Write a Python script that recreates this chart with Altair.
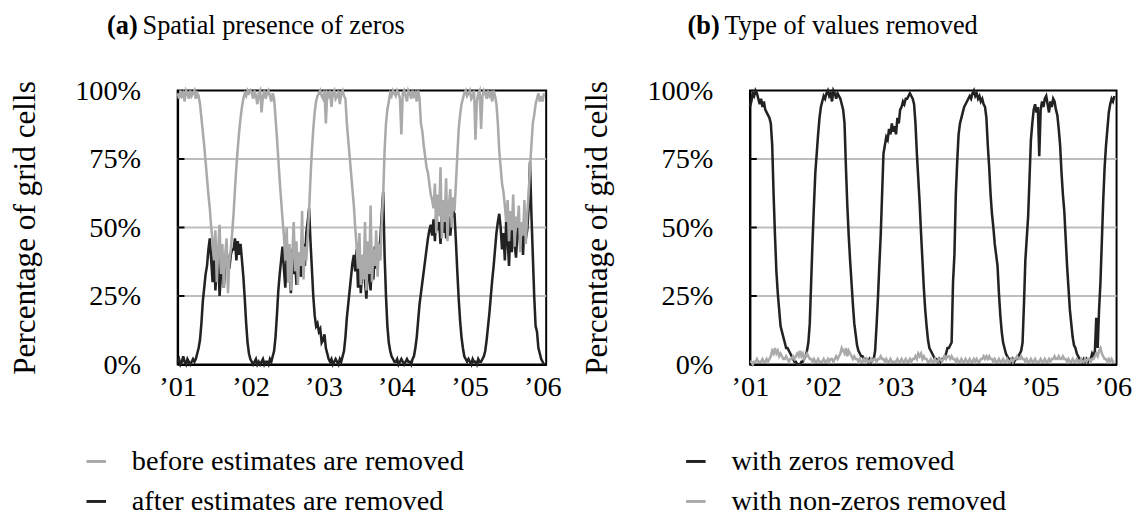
import altair as alt
import pandas as pd

FONT = "Liberation Serif"
GRAY = "#aaaaaa"
BLACK = "#222222"

# ---------------- data (weekly readings, percent of grid cells) ----------------
# Panel (a): before estimates are removed (gray)
a_before_2001 = [99, 97, 100, 98, 99, 96, 100, 99, 97, 100, 98, 99, 100, 97, 99, 98,
                 95, 90, 85, 80, 74, 68, 62, 57, 50, 45, 38,
                 49, 30, 42, 51, 33, 44, 28, 40, 46, 26, 38, 42,
                 48, 55, 64, 72, 79, 85, 90, 94, 97, 99, 98, 100, 99]
a_before_2002 = [100, 99, 97, 100, 98, 95, 99, 100, 92, 98, 100, 97, 99, 100, 98, 96, 99, 97,
                 90, 83, 75, 67, 60, 53, 47,
                 38, 50, 30, 44, 27, 40, 52, 34, 45, 29, 41, 36, 56, 31, 43, 38,
                 47, 56, 68, 78, 86, 92, 96, 98, 99, 100, 98]
a_before_2003 = [97, 100, 88, 99, 98, 100, 94, 99, 100, 97, 98, 100, 95, 99, 100, 98, 97,
                 88, 82, 76, 70, 64, 58, 50, 43,
                 35, 48, 29, 40, 31, 52, 27, 45, 33, 58, 30, 42, 36, 49, 32, 44, 38,
                 52, 62, 78, 88, 93, 96, 99, 98, 100, 99]
a_before_2004 = [98, 100, 99, 97, 84, 99, 100, 98, 96, 100, 99, 97, 100, 98, 99, 96, 100, 97,
                 88, 85, 80, 76, 72, 70, 66, 62, 60,
                 57, 66, 48, 62, 54, 72, 46, 60, 52, 68, 45, 58, 64, 50, 61, 56,
                 66, 76, 86, 91, 95, 97, 99, 100, 98]
a_before_2005 = [99, 100, 97, 98, 100, 82, 96, 99, 100, 86, 98, 100, 99, 97, 100, 98, 99, 96, 100, 98, 95,
                 88, 78, 72, 66, 63, 58,
                 52, 60, 45, 56, 49, 62, 43, 54, 50, 58, 41, 52, 47, 60, 44, 55, 62,
                 72, 80, 88, 91, 95, 97, 99, 96]
a_before_2006 = [98, 96, 99]

# Panel (a): after estimates are removed (black)
a_after_2001 = [1, 2, 0, 1, 3, 1, 0, 2, 1, 0, 1, 2, 1,
                2, 4, 6, 9, 15, 23, 28, 33, 36, 42, 46,
                38, 30, 44, 27, 36, 40, 25, 33, 38, 28, 36, 41, 38, 35, 40, 42,
                42, 46, 38, 45, 40, 44, 38, 32, 24, 15, 8, 4]
a_after_2002 = [2, 1, 0, 1, 2, 0, 1, 0, 1, 2, 0, 1, 1, 0, 2, 1, 3, 5,
                10, 18, 27, 33, 38, 43,
                35, 28, 40, 30, 37, 26, 42, 33, 38, 29, 36, 41, 32, 39, 44, 36, 48, 52,
                57, 45, 35, 25, 18, 14, 15, 12, 13, 8]
a_after_2003 = [9, 11, 6, 4,
                2, 1, 2, 0, 1, 2, 1, 0, 2, 1, 3,
                5, 10, 17, 22, 27, 32, 37, 40,
                34, 42, 28, 38, 26, 35, 40, 30, 24, 36, 33, 27, 39, 31, 43, 35, 38, 41, 46,
                55, 63, 40, 25, 14, 8, 5, 3, 2, 1]
a_after_2004 = [1, 2, 0, 1, 2, 1, 0, 1, 2, 1, 1, 0, 2, 3,
                6, 10, 16, 22, 26, 30, 34, 38, 42, 46, 49, 51,
                47, 53, 45, 56, 49, 52, 44, 55, 48, 57, 46, 51, 54, 47, 53, 56, 55,
                45, 34, 24, 16, 10, 6, 3, 2, 1]
a_after_2005 = [2, 1, 0, 2, 1, 1, 0, 2, 1, 1, 2,
                3, 5, 9, 14, 19, 25, 31, 36, 42, 48, 52, 55,
                50, 42, 48, 38, 53, 45, 36, 50, 41, 55, 44, 39, 48, 52, 43, 47, 40, 51, 46, 49, 57,
                74, 55, 40, 25, 14, 12, 6, 4]
a_after_2006 = [2, 1, 0]

# Panel (b): with zeros removed (black)
b_zeros_2001 = [94, 96, 99, 98, 100, 99, 97, 95, 97, 94, 96, 93, 92, 91, 90, 88,
                80, 62, 47, 34, 26, 20, 14, 12, 10, 8, 6, 6, 5, 4, 3, 2,
                1, 1, 0, 0, 0, 1, 1, 2, 3, 5, 8,
                15, 30, 45, 58, 70, 77, 84, 90, 94]
b_zeros_2002 = [96, 98, 97, 99, 100, 98, 99, 96, 100, 99, 97, 99, 98, 97, 95, 93, 88,
                72, 58, 47, 38, 30, 22, 15, 11, 7, 5, 4, 3, 3,
                2, 2, 2, 1, 2, 1, 2, 2,
                5, 14, 24, 36, 47, 62, 77, 80, 83, 82, 86, 84, 88, 85]
b_zeros_2003 = [87, 84, 90, 88, 93, 94, 96, 95, 97, 97, 98, 99, 98, 97, 95,
                88, 77, 68, 59, 48, 38, 28, 20, 14, 9, 6, 5, 4, 3,
                2, 2, 1, 2, 1, 2, 2, 3, 4, 6, 6, 7, 8,
                30, 40, 62, 74, 84, 88, 90, 92, 94, 95]
b_zeros_2004 = [96, 97, 98, 97, 99, 100, 98, 99, 97, 98, 96, 97, 95, 94, 90,
                80, 72, 62, 55, 50, 44, 40, 36, 26, 18, 12, 8, 6, 4,
                3, 2, 2, 1, 2, 1, 2, 2, 3, 4, 5, 8,
                22, 38, 46, 54, 68, 82, 88, 93, 95, 92, 94]
b_zeros_2005 = [76, 93, 96, 94, 97, 98, 95, 92, 96, 94, 97, 96, 93, 91,
                86, 80, 70, 62, 56, 46, 36, 28, 20, 15, 10, 7, 6, 4, 3,
                2, 2, 1, 2, 1, 2, 1, 2, 2, 4, 3, 5,
                17, 6, 20, 30, 45, 60, 72, 80, 86, 92, 95]
b_zeros_2006 = [97, 96, 98]

# Panel (b): with non-zeros removed (gray)
b_nonzeros_2001 = [1, 1, 0, 1, 1, 2, 1, 1, 1, 2, 1, 1, 2, 1, 2,
                   3, 5, 4, 6, 4, 5, 3, 4, 3,
                   2, 2, 3, 2, 1, 2, 2, 3, 2,
                   3, 4, 3, 5, 3, 4, 2, 3, 4, 3, 2, 2,
                   1, 2, 1, 1, 2, 1, 1]
b_nonzeros_2002 = [1, 2, 1, 1, 2, 1, 2, 2, 1, 2, 3, 2, 3,
                   4, 6, 5, 4, 6, 3, 5, 4, 3, 2, 3, 2,
                   2, 1, 2, 1, 1, 2, 1, 2, 1, 1, 2, 1, 2, 2, 1, 2,
                   2, 3, 2, 2, 1, 2, 1, 1, 2, 1, 1]
b_nonzeros_2003 = [1, 1, 2, 1, 1, 2, 1, 1, 2, 1, 1, 2, 1, 2, 2,
                   3, 2, 4, 3, 4, 2, 3, 2, 2, 1,
                   1, 2, 1, 1, 2, 1, 1, 2, 2, 1, 2, 3, 2, 3,
                   3, 2, 3, 2, 2, 1, 2, 1,
                   1, 2, 1, 1, 2]
b_nonzeros_2004 = [1, 1, 2, 1, 1, 2, 1, 2, 1, 1, 2, 2, 3, 2, 3,
                   2, 3, 2, 2, 1, 2, 1, 1, 2, 1,
                   1, 2, 1, 1, 2, 1, 1, 2, 1, 2, 2, 3, 2, 2, 3, 2,
                   2, 1, 2, 1, 1, 2, 1, 1, 2, 1, 1]
b_nonzeros_2005 = [1, 2, 1, 1, 2, 1, 1, 2, 1, 2, 2, 3, 2, 2,
                   3, 2, 2, 3, 2, 2, 1, 2, 1, 1, 2,
                   1, 1, 2, 1, 1, 2, 1, 1, 2, 1, 2, 2, 1, 2, 2, 3,
                   4, 3, 5, 6, 4, 3, 2, 2, 1, 2, 1]
b_nonzeros_2006 = [2, 1, 1]

a_before = a_before_2001 + a_before_2002 + a_before_2003 + a_before_2004 + a_before_2005 + a_before_2006
a_after = a_after_2001 + a_after_2002 + a_after_2003 + a_after_2004 + a_after_2005 + a_after_2006
b_zeros = b_zeros_2001 + b_zeros_2002 + b_zeros_2003 + b_zeros_2004 + b_zeros_2005 + b_zeros_2006
b_nonzeros = b_nonzeros_2001 + b_nonzeros_2002 + b_nonzeros_2003 + b_nonzeros_2004 + b_nonzeros_2005 + b_nonzeros_2006

N = len(a_before)
dates = pd.date_range("2001-01-01", periods=N, freq="7D").strftime("%Y-%m-%d").tolist()

LA_GRAY = "before estimates are removed"
LA_BLACK = "after estimates are removed"
LB_BLACK = "with zeros removed"
LB_GRAY = "with non-zeros removed"

year_ticks = [2001, 2002, 2003, 2004, 2005, 2006]
y_ticks = [0, 25, 50, 75, 100]
grid_levels = [25, 50, 75]

df_a = pd.DataFrame({"date": dates * 2, "value": a_before + a_after,
                     "series": [LA_GRAY] * N + [LA_BLACK] * N})
df_b = pd.DataFrame({"date": dates * 2, "value": b_zeros + b_nonzeros,
                     "series": [LB_BLACK] * N + [LB_GRAY] * N})
grid_df = pd.DataFrame({"v": grid_levels})

W_A, W_B, H = 378, 376, 281
Y_TITLE = "Percentage of grid cells"


def make_panel(df, domain, rng, first, second, tag, title, tag_x, legend_x, width):
    yscale = alt.Scale(domain=[0, 100], nice=False, zero=True)
    yaxis = alt.Axis(values=y_ticks, labelExpr="datum.value + '%'", grid=False,
                     ticks=False, domain=True, domainColor="black", domainWidth=2,
                     labelFontSize=29, labelPadding=38, labelColor="black",
                     labelFont=FONT, titleFont=FONT, titleFontSize=32,
                     titleFontWeight="normal", titleColor="black",
                     titleX=-147, titleY=H / 2, titleAngle=270,
                     titleAlign="center", titleBaseline="alphabetic")
    x = alt.X("date:T",
              scale=alt.Scale(domain=[alt.DateTime(year=2001, month=1, date=1),
                                      alt.DateTime(year=2006, month=1, date=20)]),
              axis=alt.Axis(values=[alt.DateTime(year=yy, month=1, date=1) for yy in year_ticks],
                            labelExpr="'\u2019' + timeFormat(datum.value, '%y')",
                            grid=False, ticks=False, domain=True, domainColor="black",
                            domainWidth=2, labelFontSize=29, labelPadding=9,
                            labelColor="black", labelFont=FONT, labelFlush=False),
              title=None)
    y = alt.Y("value:Q", scale=yscale, axis=yaxis, title=Y_TITLE)
    color = alt.Color("series:N", scale=alt.Scale(domain=domain, range=rng),
                      legend=alt.Legend(title=None, orient="none", legendX=legend_x,
                                        legendY=366, direction="vertical",
                                        symbolType="stroke", symbolSize=400,
                                        symbolStrokeWidth=3, labelFontSize=29,
                                        labelFont=FONT, labelColor="black",
                                        labelLimit=1000,
                                        labelOffset=22, rowPadding=11))
    grid = alt.Chart(grid_df).mark_rule(color="#bdbdbd", strokeWidth=2).encode(
        y=alt.Y("v:Q", scale=yscale, axis=yaxis, title=Y_TITLE))
    base = alt.Chart(df).encode(x=x, y=y, color=color)
    l1 = base.transform_filter(alt.datum.series == first).mark_line(strokeWidth=2.6)
    l2 = base.transform_filter(alt.datum.series == second).mark_line(strokeWidth=2.6)
    ticks = alt.Chart(grid_df).mark_rule(color="black", strokeWidth=2).encode(
        y=alt.Y("v:Q", scale=yscale, axis=yaxis, title=Y_TITLE),
        x=alt.value(0), x2=alt.value(7))
    tag_mark = alt.Chart(pd.DataFrame({"t": [tag]})).mark_text(
        align="right", baseline="alphabetic", font=FONT, fontSize=27,
        fontWeight="bold", color="black").encode(
        x=alt.value(tag_x), y=alt.value(-58), text="t:N")
    title_mark = alt.Chart(pd.DataFrame({"t": [title]})).mark_text(
        align="left", baseline="alphabetic", font=FONT, fontSize=27,
        color="black").encode(
        x=alt.value(tag_x + 5), y=alt.value(-58), text="t:N")
    return alt.layer(grid, l1, l2, ticks, tag_mark, title_mark).properties(
        width=width, height=H)


pa = make_panel(df_a, [LA_GRAY, LA_BLACK], [GRAY, BLACK], LA_BLACK, LA_GRAY,
                "(a)", "Spatial presence of zeros", -41, -98, W_A)
pb = make_panel(df_b, [LB_BLACK, LB_GRAY], [BLACK, GRAY], LB_BLACK, LB_GRAY,
                "(b)", "Type of values removed", -31, -70, W_B)

chart = alt.hconcat(pa, pb, spacing=18).resolve_scale(color="independent").configure_view(
    stroke="black", strokeWidth=2).properties(
    padding={"left": 0, "top": -3, "right": 5, "bottom": 0})

chart.save("out.html", embed_options={"renderer": "svg", "actions": False})
